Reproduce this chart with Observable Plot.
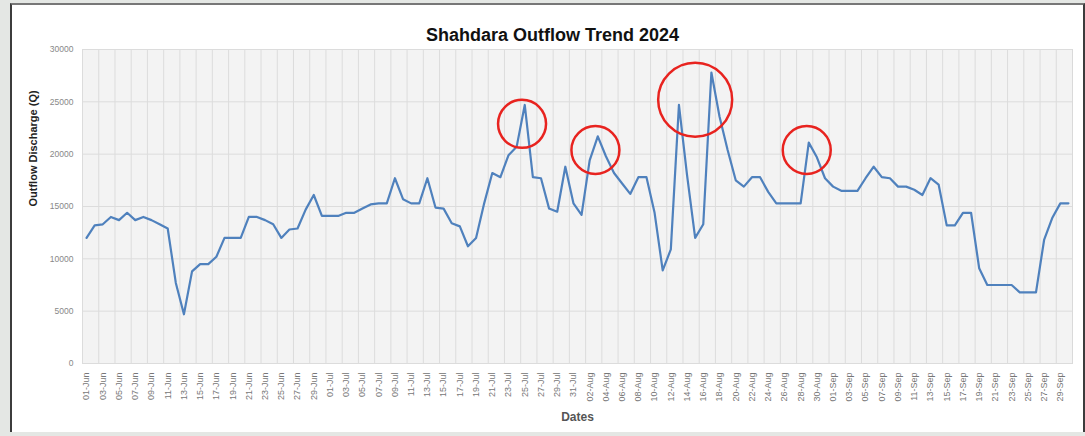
<!DOCTYPE html>
<html><head><meta charset="utf-8">
<script src="https://cdn.jsdelivr.net/npm/d3@7"></script>
<script src="https://cdn.jsdelivr.net/npm/@observablehq/plot@0.6"></script>
<style>
html,body{margin:0;padding:0;background:#e4e7e4;width:1085px;height:436px;overflow:hidden;}
#frame{position:absolute;left:10px;top:3px;width:1075px;height:429px;background:#fff;border-left:2px solid #3c3c3c;border-top:2px solid #777;border-right:2px solid #3c3c3c;box-sizing:border-box;}
#chart{position:absolute;left:0;top:0;}
</style></head><body>
<div id="frame"></div><div id="chart"></div>
<script>
const title = "Shahdara Outflow Trend 2024";
const yLabel = "Outflow Discharge (Q)";
const xLabel = "Dates";
const startDate = "2024-06-01";
const endDate = "2024-10-01";
const yTicks = [0, 5000, 10000, 15000, 20000, 25000, 30000];

// daily outflow, 01-Jun .. 30-Sep 2024
const outflowJun = [12000,13200,13300,14000,13700,14400,13700,14000,13700,13300,
  12900,7700,4700,8800,9500,9500,10200,12000,12000,12000,
  14000,14000,13700,13300,12000,12800,12900,14700,16100,14100];
const outflowJul = [14100,14100,14400,14400,14800,15200,15300,15300,17700,15700,
  15300,15300,17700,14900,14800,13400,13100,11200,12000,15300,
  18200,17800,19900,20700,24700,17800,17700,14800,14500,18800,15300];
const outflowAug = [14200,19400,21700,19800,18200,17200,16200,17800,17800,14400,
  8900,10900,24700,18000,12000,13300,27800,23600,20400,17500,
  16900,17800,17800,16400,15300,15300,15300,15300,21100,19700,17700];
const outflowSep = [16900,16500,16500,16500,17700,18800,17800,17700,16900,16900,
  16600,16100,17700,17100,13200,13200,14400,14400,9100,7500,
  7500,7500,7500,6800,6800,6800,11800,13900,15300,15300];

// highlighted peaks (circle centres)
const smallCircleDates = ["2024-07-24T16:00Z", "2024-08-02T17:00Z", "2024-08-28T18:00Z"];
const smallCircleValues = [22900, 20400, 20400];
const bigCircleDates = ["2024-08-15T00:00Z"];
const bigCircleValues = [25200];

const values = [...outflowJun, ...outflowJul, ...outflowAug, ...outflowSep];
const dates = d3.utcDay.range(new Date(startDate), new Date(endDate));
const data = dates.map((d, i) => ({date: d, value: values[i]}));
const tickDates = dates.filter((d, i) => i % 2 === 0);
const half = 12 * 3600 * 1000;
const gridDates = tickDates.map(d => new Date(+d - half));
const fmt = d3.utcFormat("%d-%b");
const small = smallCircleDates.map((d, i) => ({date: new Date(d), value: smallCircleValues[i]}));
const big = bigCircleDates.map((d, i) => ({date: new Date(d), value: bigCircleValues[i]}));

const chart = Plot.plot({
  width: 1085,
  height: 436,
  marginLeft: 82,
  marginRight: 13,
  marginTop: 49,
  marginBottom: 73,
  style: {fontFamily: "'Liberation Sans', Arial, sans-serif", background: "transparent"},
  x: {type: "utc", domain: [new Date(+dates[0] - half), new Date(+dates[dates.length - 1] + half)]},
  y: {domain: [0, 30000]},
  marks: [
    Plot.frame({fill: "#f3f3f3", stroke: "#dadada"}),
    Plot.ruleX(gridDates, {stroke: "#dcdcdc", strokeWidth: 1}),
    Plot.ruleY(yTicks, {stroke: "#dcdcdc", strokeWidth: 1}),
    Plot.axisY({ticks: yTicks, tickFormat: d => String(d), tickSize: 0, tickPadding: 9, fontSize: 8.5, fill: "#888", label: null}),
    Plot.axisX({ticks: tickDates, tickFormat: fmt, tickRotate: -90, tickSize: 0, tickPadding: 9, fontSize: 9, fill: "#777", label: null}),
    Plot.line(data, {x: "date", y: "value", stroke: "#4f81bd", strokeWidth: 2.2}),
    Plot.dot(small, {x: "date", y: "value", r: 24, stroke: "#e8231f", strokeWidth: 2.5, fill: "none"}),
    Plot.dot(big, {x: "date", y: "value", r: 37, stroke: "#e8231f", strokeWidth: 2.5, fill: "none"}),
    Plot.text([title], {frameAnchor: "top", dy: -21, dx: -25, fontSize: 18, fontWeight: "bold", fill: "#111"}),
    Plot.text([yLabel], {frameAnchor: "left", dx: -49, rotate: -90, fontSize: 11, fontWeight: "bold", fill: "#222"}),
    Plot.text([xLabel], {frameAnchor: "bottom", dy: 57, fontSize: 12, fontWeight: "bold", fill: "#555"})
  ]
});
document.getElementById("chart").appendChild(chart);
</script></body></html>
